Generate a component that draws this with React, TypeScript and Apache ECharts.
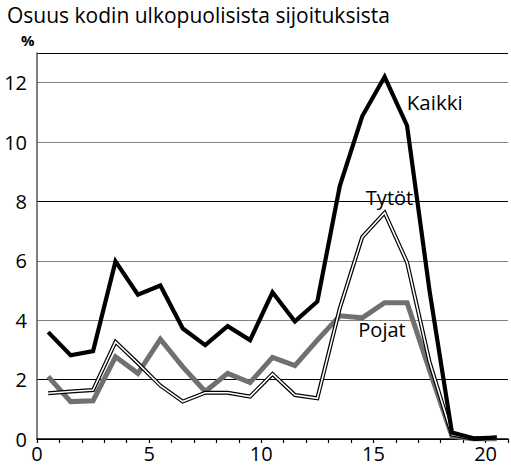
import React, { useEffect, useRef } from "react";
import * as echarts from "echarts";

const ages = [0.5, 1.5, 2.5, 3.5, 4.5, 5.5, 6.5, 7.5, 8.5, 9.5, 10.5, 11.5, 12.5, 13.5, 14.5, 15.5, 16.5, 17.5, 18.5, 19.5, 20.5];
const kaikki = [3.6, 2.82, 2.96, 5.98, 4.86, 5.17, 3.72, 3.16, 3.8, 3.33, 4.94, 3.96, 4.63, 8.52, 10.87, 12.2, 10.55, 5.0, 0.22, 0.02, 0.05];
const tytot = [1.54, 1.6, 1.65, 3.27, 2.55, 1.8, 1.26, 1.56, 1.56, 1.43, 2.19, 1.48, 1.37, 4.4, 6.8, 7.62, 5.95, 2.6, 0.15, 0.0, 0.05];
const pojat = [2.1, 1.26, 1.29, 2.77, 2.21, 3.36, 2.43, 1.6, 2.21, 1.9, 2.75, 2.47, 3.33, 4.15, 4.08, 4.59, 4.59, 2.32, 0.09, 0.0, 0.0];
const xLabelValues = [0, 5, 10, 15, 20];

const title = "Osuus kodin ulkopuolisista sijoituksista";
const yUnit = "%";
const seriesNames = ["Kaikki", "Tytöt", "Pojat"];

const FONT = "'Open Sans', 'Noto Sans', sans-serif";

function pairs(vals: number[]) {
  return ages.map((a, i) => [a, vals[i]]);
}

export default function App() {
  const ref = useRef<HTMLDivElement>(null);
  useEffect(() => {
    document.body.style.margin = "0";
    const chart = echarts.init(ref.current!, null, { renderer: "svg" });
    const gridColors = ["#000", "#000", "#808080", "#808080", "#000", "#808080", "#808080", "#000"];
    chart.setOption({
      animation: false,
      backgroundColor: "#fff",
      grid: { left: 37, right: 0, top: 53, bottom: 30, containLabel: false },
      xAxis: {
        type: "value",
        min: 0,
        max: 21,
        interval: 1,
        axisLine: { show: true, lineStyle: { color: "#000", width: 1.5 } },
        axisTick: { show: true, length: 4, lineStyle: { color: "#000", width: 1.2 } },
        splitLine: { show: false },
        axisLabel: {
          color: "#000",
          fontFamily: FONT,
          fontSize: 20,
          margin: 4,
          formatter: (v: number) => (xLabelValues.includes(v) ? String(v) : ""),
        },
      },
      yAxis: {
        type: "value",
        min: 0,
        max: 13,
        interval: 2,
        axisLine: { show: true, lineStyle: { color: "#555", width: 1.5 } },
        axisTick: { show: false },
        axisLabel: {
          color: "#000",
          fontFamily: FONT,
          fontSize: 20,
          margin: 10,
          formatter: (v: number) => (v === 13 ? "" : String(v)),
        },
        splitLine: { show: true, lineStyle: { color: gridColors, width: 1.2 } },
      },
      graphic: [
        {
          type: "text",
          x: 7,
          y: 14.6,
          style: { text: title, font: `21px ${FONT}`, lineHeight: 20, fill: "#000", textVerticalAlign: "middle" },
        },
        {
          type: "text",
          x: 21,
          y: 39.5,
          style: { text: yUnit, font: `bold 15px ${FONT}`, lineHeight: 14, fill: "#000", textVerticalAlign: "middle" },
        },
        {
          type: "text",
          x: 434.7,
          y: 102,
          style: { text: seriesNames[0], font: `20.5px ${FONT}`, fill: "#000", textAlign: "center", textVerticalAlign: "middle" },
        },
        {
          type: "text",
          x: 389.5,
          y: 197.5,
          style: { text: seriesNames[1], font: `20px ${FONT}`, fill: "#000", textAlign: "center", textVerticalAlign: "middle" },
        },
        {
          type: "text",
          x: 382,
          y: 329,
          style: { text: seriesNames[2], font: `20px ${FONT}`, fill: "#000", textAlign: "center", textVerticalAlign: "middle" },
        },
      ],
      series: [
        {
          name: "Pojat",
          type: "line",
          data: pairs(pojat),
          showSymbol: false,
          symbol: "none",
          lineStyle: { color: "#707070", width: 5, join: "miter" },
          z: 2,
        },
        {
          name: "Tytöt",
          type: "line",
          data: pairs(tytot),
          showSymbol: false,
          symbol: "none",
          lineStyle: { color: "#000", width: 4, join: "miter" },
          z: 3,
        },
        {
          name: "Tytöt-inner",
          type: "line",
          data: pairs(tytot),
          showSymbol: false,
          symbol: "none",
          lineStyle: { color: "#fff", width: 1.6, join: "miter" },
          z: 4,
        },
        {
          name: "Kaikki",
          type: "line",
          data: pairs(kaikki),
          showSymbol: false,
          symbol: "none",
          lineStyle: { color: "#000", width: 4.2, join: "miter" },
          z: 5,
        },
      ],
    });
    return () => chart.dispose();
  }, []);
  return <div ref={ref} style={{ width: 511, height: 469 }} />;
}
